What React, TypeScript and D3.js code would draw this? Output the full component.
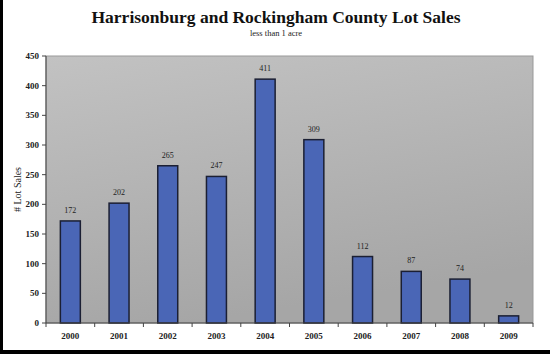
import React from "react";
import * as d3 from "d3";

const years = ["2000", "2001", "2002", "2003", "2004", "2005", "2006", "2007", "2008", "2009"];
const lotSales = [172, 202, 265, 247, 411, 309, 112, 87, 74, 12];
const yTicks = [0, 50, 100, 150, 200, 250, 300, 350, 400, 450];
const title = "Harrisonburg and Rockingham County Lot Sales";
const subtitle = "less than 1 acre";
const yLabel = "# Lot Sales";

const W = 550;
const H = 354;
const plot = { left: 46, right: 533, top: 56, bottom: 323 };
const serif = "'Liberation Serif', 'DejaVu Serif', serif";

export default function App() {
  const x = d3.scaleBand<string>().domain(years).range([plot.left, plot.right]).paddingInner(0.59).paddingOuter(0.295);
  const y = d3.scaleLinear().domain([0, 450]).range([plot.bottom, plot.top]);
  const band = (plot.right - plot.left) / years.length;
  const boundaries = d3.range(years.length + 1).map((i) => plot.left + i * band);

  return (
    <svg width={W} height={H} style={{ position: "absolute", left: 0, top: 0, background: "#fff" }}>
      <defs>
        <linearGradient id="bg" x1="0" y1="0" x2="0.3" y2="1">
          <stop offset="0" stopColor="#c2c2c2" />
          <stop offset="1" stopColor="#a6a6a6" />
        </linearGradient>
      </defs>
      <rect x={0} y={0} width={W} height={H} fill="#fff" />
      {/* frame */}
      <rect x={0} y={0} width={3} height={H} fill="#000" />
      <rect x={0} y={H - 4} width={W} height={4} fill="#000" />

      <text x={276} y={23} textAnchor="middle" fontFamily={serif} fontWeight="bold" fontSize={17.5} fill="#111">
        {title}
      </text>
      <text x={276} y={36} textAnchor="middle" fontFamily={serif} fontSize={8.5} fill="#222">
        {subtitle}
      </text>

      {/* plot area */}
      <rect x={plot.left} y={plot.top} width={plot.right - plot.left} height={plot.bottom - plot.top} fill="url(#bg)" stroke="#999" strokeWidth={1} />

      {/* y axis */}
      <line x1={plot.left} x2={plot.left} y1={plot.top} y2={plot.bottom} stroke="#444" strokeWidth={1} />
      {yTicks.map((t) => (
        <g key={t}>
          <line x1={plot.left - 4} x2={plot.left} y1={y(t)} y2={y(t)} stroke="#444" />
          <text x={plot.left - 7} y={y(t)} dy="0.35em" textAnchor="end" fontFamily={serif} fontWeight="bold" fontSize={9} fill="#222">
            {t}
          </text>
        </g>
      ))}
      <text transform={`translate(21,${(plot.top + plot.bottom) / 2}) rotate(-90)`} textAnchor="middle" fontFamily={serif} fontSize={10} fill="#222">
        {yLabel}
      </text>

      {/* bars */}
      {years.map((yr, i) => {
        const v = lotSales[i];
        const bx = x(yr)!;
        const bw = x.bandwidth();
        return (
          <g key={yr}>
            <rect x={bx} y={y(v)} width={bw} height={y(0) - y(v)} fill="#4a66b6" stroke="#1b1f33" strokeWidth={1.5} />
            <text x={bx + bw / 2} y={y(v) - 8} textAnchor="middle" fontFamily={serif} fontSize={8} fill="#222">
              {v}
            </text>
          </g>
        );
      })}

      {/* x axis */}
      <line x1={plot.left} x2={plot.right} y1={plot.bottom} y2={plot.bottom} stroke="#444" strokeWidth={1} />
      {boundaries.map((b, i) => (
        <line key={i} x1={b} x2={b} y1={plot.bottom} y2={plot.bottom + 4} stroke="#444" />
      ))}
      {years.map((yr) => (
        <text key={yr} x={x(yr)! + x.bandwidth() / 2} y={339} textAnchor="middle" fontFamily={serif} fontWeight="bold" fontSize={9} fill="#222">
          {yr}
        </text>
      ))}
    </svg>
  );
}
